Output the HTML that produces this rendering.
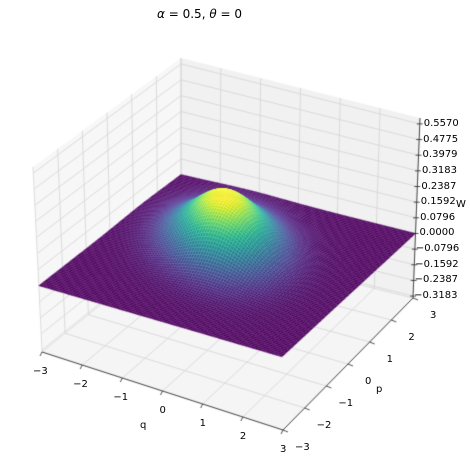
<!DOCTYPE html>
<html><head><meta charset="utf-8"><style>
html,body{margin:0;padding:0;background:#fff}
#wrap{position:relative;width:470px;height:466px;overflow:hidden;font-family:"DejaVu Sans","Liberation Sans",sans-serif}
canvas{position:absolute;left:0;top:0}
.t{position:absolute;font-size:10px;color:#000;white-space:nowrap;line-height:1}
</style></head><body>
<div id="wrap">
<canvas id="c" width="470" height="466"></canvas>
<div class="t" style="left:157px;top:8px;font-size:12px"><i>α</i> = 0.5, <i>θ</i> = 0</div>
<div id="labels"></div>
</div>
<script>
const qTicks=[-3,-2,-1,0,1,2,3];
const pTicks=[-3,-2,-1,0,1,2,3];
const zTicks=[0.5570,0.4775,0.3979,0.3183,0.2387,0.1592,0.0796,0.0000,-0.0796,-0.1592,-0.2387,-0.3183];
const zTickLabels=["0.5570","0.4775","0.3979","0.3183","0.2387","0.1592","0.0796","0.0000","−0.0796","−0.1592","−0.2387","−0.3183"];
// surface bump parameters: amplitude, centre q, centre p, width along (1,1), width along (1,-1)
const peakAmp=[0.27];
const peakCenter=[-0.4,0.5];
const peakWidths=[1.2,2.4];
const gridN=90;

const ZMIN=-0.328,ZMAX=0.587;
const F={a:[42,352],b:[283,430],c:[413,298],d:[181,240]};
const T={a:[33,167],b:[280,226],c:[420,118],d:[181,58]};
function bil(C,s,t){
  const x=(1-s)*(1-t)*C.a[0]+s*(1-t)*C.b[0]+s*t*C.c[0]+(1-s)*t*C.d[0];
  const y=(1-s)*(1-t)*C.a[1]+s*(1-t)*C.b[1]+s*t*C.c[1]+(1-s)*t*C.d[1];
  return [x,y];
}
function P(q,p,z){
  const s=(q+3)/6,t=(p+3)/6,f=(z-ZMIN)/(ZMAX-ZMIN);
  const A=bil(F,s,t),B=bil(T,s,t);
  return [A[0]+(B[0]-A[0])*f,A[1]+(B[1]-A[1])*f];
}
const V=[[68,1,84],[72,36,117],[65,68,135],[53,95,141],[42,120,142],[33,145,140],[34,168,132],[68,191,112],[122,209,81],[189,223,38],[253,231,37]];
function vir(v){v=Math.max(0,Math.min(1,v));const x=v*(V.length-1),i=Math.min(V.length-2,Math.floor(x)),f=x-i;
  return V[i].map((c,k)=>Math.round(c+(V[i+1][k]-c)*f));}
function W(q,p){
  const dq=q-peakCenter[0],dp=p-peakCenter[1];
  const u=(dq+dp)/Math.SQRT2,v=(dq-dp)/Math.SQRT2;
  return peakAmp[0]*Math.exp(-(u*u)/peakWidths[0]-(v*v)/peakWidths[1]);
}
const cv=document.getElementById('c'),ctx=cv.getContext('2d');
function poly(pts,fill,stroke,lw){ctx.beginPath();pts.forEach((p,i)=>i?ctx.lineTo(p[0],p[1]):ctx.moveTo(p[0],p[1]));ctx.closePath();
  if(fill){ctx.fillStyle=fill;ctx.fill();} if(stroke){ctx.strokeStyle=stroke;ctx.lineWidth=lw||1;ctx.stroke();}}
function line(a,b,col,lw){ctx.beginPath();ctx.moveTo(a[0],a[1]);ctx.lineTo(b[0],b[1]);ctx.strokeStyle=col;ctx.lineWidth=lw||1;ctx.stroke();}
poly([P(-3,-3,ZMIN),P(3,-3,ZMIN),P(3,3,ZMIN),P(-3,3,ZMIN)],'#f5f5f5');
poly([P(-3,-3,ZMIN),P(-3,3,ZMIN),P(-3,3,ZMAX),P(-3,-3,ZMAX)],'#f7f7f7');
poly([P(-3,3,ZMIN),P(3,3,ZMIN),P(3,3,ZMAX),P(-3,3,ZMAX)],'#f1f1f1');
const gc='#d4d4d4';
qTicks.forEach(q=>{line(P(q,-3,ZMIN),P(q,3,ZMIN),gc,0.8);line(P(q,3,ZMIN),P(q,3,ZMAX),gc,0.8);});
pTicks.forEach(p=>{line(P(-3,p,ZMIN),P(3,p,ZMIN),gc,0.8);line(P(-3,p,ZMIN),P(-3,p,ZMAX),gc,0.8);});
zTicks.forEach(z=>{line(P(-3,-3,z),P(-3,3,z),gc,0.8);line(P(-3,3,z),P(3,3,z),gc,0.8);});
const N=gridN,h=6/N,quads=[];
let zmx=-1e9,zmn=1e9;const Z=[];
for(let i=0;i<=N;i++){Z.push([]);for(let j=0;j<=N;j++){const v=W(-3+i*h,-3+j*h);Z[i].push(v);zmx=Math.max(zmx,v);zmn=Math.min(zmn,v);}}
for(let i=0;i<N;i++)for(let j=0;j<N;j++){
  const q0=-3+i*h,p0=-3+j*h,avg=(Z[i][j]+Z[i+1][j]+Z[i+1][j+1]+Z[i][j+1])/4;
  quads.push({d:(q0+h/2)-(p0+h/2),pts:[P(q0,p0,Z[i][j]),P(q0+h,p0,Z[i+1][j]),P(q0+h,p0+h,Z[i+1][j+1]),P(q0,p0+h,Z[i][j+1])],v:(avg-zmn)/(zmx-zmn)});
}
quads.sort((a,b)=>a.d-b.d);
quads.forEach(o=>{const c=vir(o.v);const col='rgb('+c.join(',')+')';
  const lc='rgba('+Math.min(255,c[0]+45)+','+Math.min(255,c[1]+35)+','+Math.min(255,c[2]+45)+',0.9)';
  poly(o.pts,col,lc,0.5);});
line(P(-3,-3,ZMIN),P(3,-3,ZMIN),'#222',0.8);
line(P(3,-3,ZMIN),P(3,3,ZMIN),'#222',0.8);
line(P(3,3,ZMIN),P(3,3,ZMAX),'#222',0.8);
const L=document.getElementById('labels');
function lab(txt,x,y,name,fs){const d=document.createElement('div');d.className='t';d.textContent=txt;d.style.left=x+'px';d.style.top=y+'px';if(fs)d.style.fontSize=fs+'px';
  
  
  L.appendChild(d);}
qTicks.forEach(q=>{const a=P(q,-3,ZMIN);line(a,[a[0]-2,a[1]+4],'#222',0.8);
  const s=q<0?'−'+(-q):''+q;lab(s,a[0]-(q<0?9:3),a[1]+15,'q-tick-label');});
pTicks.forEach(p=>{const a=P(3,p,ZMIN);line(a,[a[0]+5,a[1]+2],'#222',0.8);
  const s=p<0?'−'+(-p):''+p;lab(s,a[0]+(p<0?12:17),a[1]+13,'p-tick-label');});
zTicks.forEach((z,k)=>{const a=P(3,3,z);line([a[0]-3,a[1]],[a[0]+3,a[1]],'#222',0.8);
  lab(zTickLabels[k],a[0]+(z<0?1:4),a[1]-5,'z-tick-label');});
lab('q',140,421,'x-axis-title');
lab('p',376,385,'y-axis-title');
lab('W',456,200,'z-axis-title');
</script>
</body></html>
